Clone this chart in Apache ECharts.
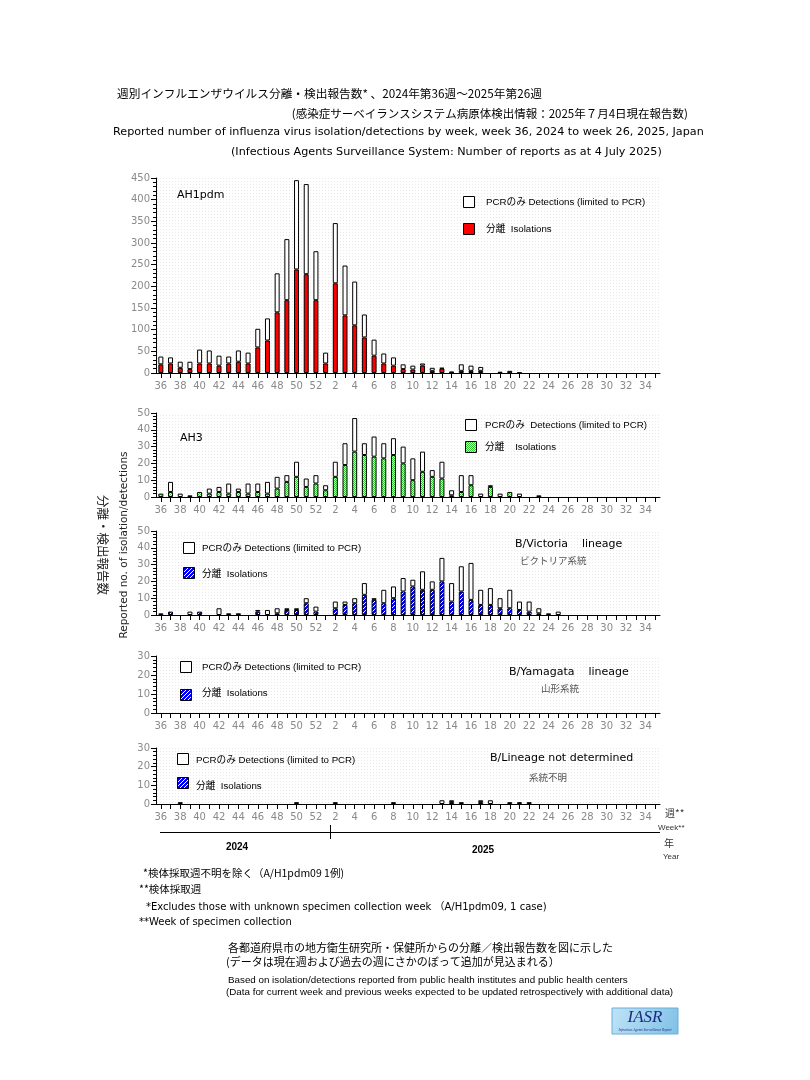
<!DOCTYPE html>
<html><head><meta charset="utf-8">
<script src="https://cdn.jsdelivr.net/npm/echarts@6/dist/echarts.min.js"></script>
<style>html,body{margin:0;padding:0;background:#fff}#c{width:810px;height:1080px}</style>
</head><body><div id="c"></div><script>
// ---- data ----
const weeks = ['36','37','38','39','40','41','42','43','44','45','46','47','48','49','50','51','52',
  '1','2','3','4','5','6','7','8','9','10','11','12','13','14','15','16','17','18','19','20',
  '21','22','23','24','25','26','27','28','29','30','31','32','33','34','35'];

const ah1Iso = [20,22,12,9,22,22,17,22,26,22,59,75,140,168,239,228,168,
  22,207,133,110,82,40,22,17,9,8,17,5,10,1,5,5,5,0,3,1,0,
  0,0,0,0,0,0,0,0,0,0,0,0,0,0];
const ah1Pcr = [18,14,14,17,32,30,23,16,26,25,43,51,90,141,206,208,113,
  25,139,115,101,53,37,23,19,11,9,5,7,2,2,15,12,9,0,0,4,1,
  0,0,0,0,0,0,0,0,0,0,0,0,0,0];

const ah3Iso = [2,3,0,0,3,2,3,2,3,2,3,2,5,9,12,6,8,
  4,12,19,27,25,24,23,25,20,10,15,12,11,1,3,7,0,6,0,3,0,0,0,
  0,0,0,0,0,0,0,0,0,0,0,0];
const ah3Pcr = [0,6,2,1,0,3,3,6,2,6,5,7,7,4,9,5,5,
  3,9,13,20,7,12,9,10,10,13,12,4,10,3,10,6,2,1,2,0,2,0,1,
  0,0,0,0,0,0,0,0,0,0,0,0];

const bvIso = [0,2,0,0,2,0,0,1,1,0,2,0,1,3,3,7,2,
  0,4,6,7,12,9,7,10,14,17,15,15,20,8,14,9,6,6,4,4,3,2,1,0,0,
  0,0,0,0,0,0,0,0,0,0];
const bvPcr = [1,0,0,2,0,0,4,0,0,0,1,3,3,1,1,3,3,
  0,4,2,3,7,1,8,7,8,4,11,5,14,11,15,22,9,10,6,11,5,6,3,1,2,
  0,0,0,0,0,0,0,0,0,0];

const byIso = [0,0,0,0,0,0,0,0,0,0,0,0,0,0,0,0,0,
  0,0,0,0,0,0,0,0,0,0,0,0,0,0,0,0,0,0,0,0,0,0,0,0,0,0,0,0,0,0,0,0,0,0,0];
const byPcr = [0,0,0,0,0,0,0,0,0,0,0,0,0,0,0,0,0,
  0,0,0,0,0,0,0,0,0,0,0,0,0,0,0,0,0,0,0,0,0,0,0,0,0,0,0,0,0,0,0,0,0,0,0];

const ndIso = [0,0,0,0,0,0,0,0,0,0,0,0,0,0,0,0,0,
  0,0,0,0,0,0,0,0,0,0,0,0,0,1,0,0,1,0,0,0,0,0,
  0,0,0,0,0,0,0,0,0,0,0,0,0];
const ndPcr = [0,0,1,0,0,0,0,0,0,0,0,0,0,0,1,0,0,
  0,1,0,0,0,0,0,1,0,0,0,0,2,1,1,0,1,2,0,1,1,1,
  0,0,0,0,0,0,0,0,0,0,0,0,0];

const yMax = [450, 50, 50, 30, 30];
const yStep = [50, 10, 10, 10, 10];

// ---- patterns ----
function mk(w, h, fn){ const c=document.createElement('canvas'); c.width=w; c.height=h; fn(c.getContext('2d')); return c; }
const greenCanvas = mk(2,2,g=>{ g.fillStyle='#d9f7d9'; g.fillRect(0,0,2,2); g.fillStyle='#2fcc2f'; g.fillRect(0,0,1,1); g.fillRect(1,1,1,1); });
const blueCanvas = mk(4,4,g=>{ g.fillStyle='#0000f0'; g.fillRect(0,0,4,4); g.fillStyle='#ffffff'; for(let x=0;x<4;x++) g.fillRect(x,3-x,1,1); });
const dotCanvas = mk(3,3,g=>{ g.fillStyle='#ffffff'; g.fillRect(0,0,3,3); g.fillStyle='#e8e8e4'; g.fillRect(1,1,1,1); });
const greenPat = {image: greenCanvas, repeat: 'repeat'};
const bluePat = {image: blueCanvas, repeat: 'repeat'};
const dotPat = {image: dotCanvas, repeat: 'repeat'};

const grids = [
  {left:156, top:178, width:504, height:195},
  {left:156, top:413, width:504, height:84},
  {left:156, top:531, width:504, height:84},
  {left:156, top:656, width:504, height:57},
  {left:156, top:748, width:504, height:56}
];
const isoData = [ah1Iso, ah3Iso, bvIso, byIso, ndIso];
const pcrData = [ah1Pcr, ah3Pcr, bvPcr, byPcr, ndPcr];
const isoFill = ['#ff0000', greenPat, bluePat, bluePat, bluePat];

// zero-height bars get no outline
const noZeroEdge = arr => arr.map(v => v === 0 ? {value:0, itemStyle:{borderWidth:0}} : v);

const LBL = '#8a8a8a';
const xAxes = grids.map((g,i)=>({
  type:'category', gridIndex:i, data:weeks, boundaryGap:true,
  axisLine:{lineStyle:{color:'#000', width:1}},
  axisTick:{show:true, interval:0, alignWithLabel:true, length:5, lineStyle:{color:'#000'}},
  axisLabel:{interval:1, color:LBL, fontFamily:'DejaVu Sans', fontSize:10, margin:8},
  splitLine:{show:false}
}));
const yAxes = grids.map((g,i)=>({
  type:'value', gridIndex:i, min:0, max:yMax[i], interval:yStep[i],
  axisLine:{show:true, lineStyle:{color:'#000', width:1}},
  axisTick:{show:true, length:5, lineStyle:{color:'#000'}},
  minorTick:{show:true, splitNumber:5, length:3, lineStyle:{color:'#000'}},
  axisLabel:{color:LBL, fontFamily:'DejaVu Sans', fontSize:10, margin:6},
  splitLine:{show:false}
}));
const series = [];
grids.forEach((g,i)=>{
  series.push({type:'bar', xAxisIndex:i, yAxisIndex:i, stack:'s'+i, data:noZeroEdge(isoData[i]), barWidth:5,
    itemStyle:{color:isoFill[i], borderColor:'#000', borderWidth:1}, silent:true, animation:false});
  series.push({type:'bar', xAxisIndex:i, yAxisIndex:i, stack:'s'+i, data:noZeroEdge(pcrData[i]), barWidth:5,
    itemStyle:{color:'#ffffff', borderColor:'#000', borderWidth:1}, silent:true, animation:false});
});

// ---- graphics (texts, legends) ----
const JP = '"Noto Sans CJK JP", "DejaVu Sans", sans-serif';
const EN = '"DejaVu Sans", "Noto Sans CJK JP", sans-serif';
const AR = '"Liberation Sans", "Noto Sans CJK JP", sans-serif';
function T(x, y, text, size, opt){
  opt = opt || {};
  return {type:'text', x:x, y:y, rotation:opt.rot||0, silent:true, z:100,
    style:{text:text, fill:opt.color||'#000', font:(opt.style||'normal')+' '+(opt.weight||'normal')+' '+size+'px '+(opt.family||EN),
      textAlign:opt.align||'left', align:opt.align||'left', textVerticalAlign:'middle', verticalAlign:'middle'}};
}
function R(x, y, w, h, fill){
  return {type:'rect', shape:{x:x, y:y, width:w, height:h}, silent:true, z:100,
    style:{fill:fill, stroke:'#000', lineWidth:1}};
}
const g = [];
// titles
g.push(T(117, 94, '週別インフルエンザウイルス分離・検出報告数* 、2024年第36週〜2025年第26週', 11.7, {family:JP}));
g.push(T(688, 114, '(感染症サーベイランスシステム病原体検出情報：2025年７月4日現在報告数)', 11.5, {family:JP, align:'right'}));
g.push(T(113, 132, 'Reported number of influenza virus isolation/detections by week, week 36, 2024 to week 26, 2025, Japan', 11.2));
g.push(T(231, 152, '(Infectious Agents Surveillance System: Number of reports as at 4 July 2025)', 11.2));
// panel 1
g.push(T(177, 195, 'AH1pdm', 11));
g.push(R(463.5, 196.5, 11, 11, '#fff'));
g.push(T(486, 202, 'PCRのみ Detections (limited to PCR)', 9.7, {family:AR}));
g.push(R(463.5, 223.5, 11, 11, '#ff0000'));
g.push(T(486, 229, '分離  Isolations', 9.7, {family:AR}));
// panel 2
g.push(T(180, 438, 'AH3', 11));
g.push(R(465.5, 419.5, 11, 11, '#fff'));
g.push(T(485, 425, 'PCRのみ  Detections (limited to PCR)', 9.7, {family:AR}));
g.push(R(465.5, 441.5, 11, 11, greenPat));
g.push(T(485, 447, '分離    Isolations', 9.7, {family:AR}));
// panel 3
g.push(R(183.5, 542.5, 11, 11, '#fff'));
g.push(T(202, 548, 'PCRのみ Detections (limited to PCR)', 9.7, {family:AR}));
g.push(R(183.5, 567.5, 11, 11, bluePat));
g.push(T(202, 574, '分離  Isolations', 9.7, {family:AR}));
g.push(T(515, 544, 'B/Victoria    lineage', 11));
g.push(T(520, 560, 'ビクトリア系統', 9.5, {family:JP, color:'#555'}));
// panel 4
g.push(R(180.5, 661.5, 11, 11, '#fff'));
g.push(T(202, 667, 'PCRのみ Detections (limited to PCR)', 9.7, {family:AR}));
g.push(R(180.5, 689.5, 11, 11, bluePat));
g.push(T(202, 693, '分離  Isolations', 9.7, {family:AR}));
g.push(T(509, 672, 'B/Yamagata    lineage', 11));
g.push(T(541, 688, '山形系統', 9.5, {family:JP, color:'#555'}));
// panel 5
g.push(R(177.5, 753.5, 11, 11, '#fff'));
g.push(T(196, 760, 'PCRのみ Detections (limited to PCR)', 9.7, {family:AR}));
g.push(R(177.5, 777.5, 11, 11, bluePat));
g.push(T(196, 786, '分離  Isolations', 9.7, {family:AR}));
g.push(T(490, 758, 'B/Lineage not determined', 11));
g.push(T(529, 777, '系統不明', 9.5, {family:JP, color:'#555'}));
// y-axis names
g.push(T(124, 545, 'Reported no. of isolation/detections', 10.5, {rot:Math.PI/2, align:'center', color:'#222'}));
g.push(T(103, 545, '分離・検出報告数', 12.5, {rot:-Math.PI/2, align:'center', family:JP, color:'#222'}));
// year axis
g.push({type:'line', shape:{x1:160, y1:832.5, x2:660, y2:832.5}, style:{stroke:'#000', lineWidth:1}, silent:true});
g.push({type:'line', shape:{x1:330.5, y1:825, x2:330.5, y2:839}, style:{stroke:'#000', lineWidth:1}, silent:true});
g.push(T(237, 847, '2024', 10, {align:'center', weight:'bold', family:AR}));
g.push(T(483, 850, '2025', 10, {align:'center', weight:'bold', family:AR}));
g.push(T(665, 813, '週**', 10, {family:JP, color:'#333'}));
g.push(T(658, 828, 'Week**', 8, {family:AR, color:'#333'}));
g.push(T(664, 843, '年', 10, {family:JP, color:'#333'}));
g.push(T(663, 857, 'Year', 8, {family:AR, color:'#333'}));
// footnotes
g.push(T(143, 873, '*検体採取週不明を除く（A/H1pdm09 1例)', 10.5, {family:JP}));
g.push(T(139, 889, '**検体採取週', 10.5, {family:JP}));
g.push(T(146, 907, '*Excludes those with unknown specimen collection week （A/H1pdm09, 1 case)', 10));
g.push(T(139, 922, '**Week of specimen collection', 10));
g.push(T(228, 948, '各都道府県市の地方衛生研究所・保健所からの分離／検出報告数を図に示した', 11, {family:JP}));
g.push(T(226, 962, '(データは現在週および過去の週にさかのぼって追加が見込まれる）', 11, {family:JP}));
g.push(T(228, 980, 'Based on isolation/detections reported from public health institutes and public health centers', 9.8, {family:AR}));
g.push(T(226, 992, '(Data for current week and previous weeks expected to be updated retrospectively with additional data)', 9.8, {family:AR}));
// IASR logo
g.push({type:'rect', shape:{x:612, y:1008, width:66, height:26}, silent:true,
  style:{fill:{type:'linear', x:0, y:0, x2:1, y2:1, colorStops:[{offset:0, color:'#bfe3f7'},{offset:1, color:'#7fc0e6'}]}, stroke:'#6aaed8', lineWidth:1}});
g.push(T(645, 1018, 'IASR', 17, {align:'center', style:'italic', family:'"Liberation Serif", serif', color:'#1c2a80'}));
g.push(T(645, 1030, 'Infectious Agents Surveillance Report', 3.5, {align:'center', style:'italic', family:'"Liberation Serif", serif', color:'#1c2a80'}));

const chart = echarts.init(document.getElementById('c'), null, {renderer:'canvas'});
chart.setOption({
  backgroundColor:'#ffffff',
  animation:false,
  grid: grids.map(gr=>Object.assign({show:true, backgroundColor:dotPat, borderWidth:0}, gr)),
  xAxis: xAxes,
  yAxis: yAxes,
  series: series,
  graphic: g
});
</script></body></html>
